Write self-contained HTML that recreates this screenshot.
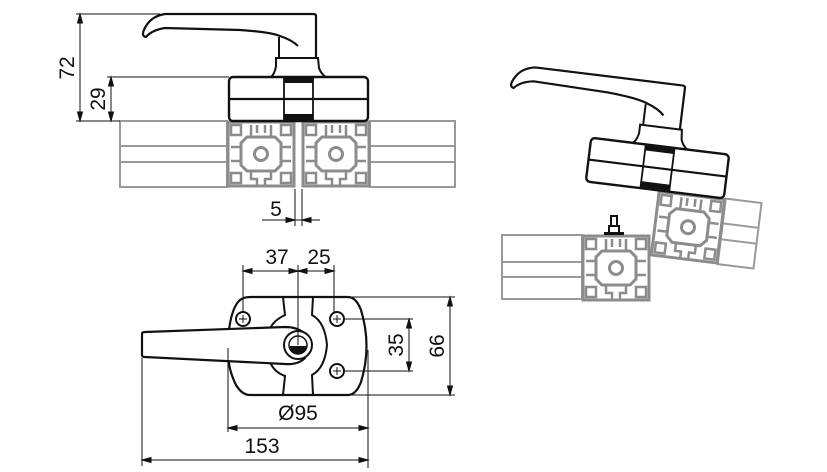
<!DOCTYPE html>
<html><head><style>
html,body{margin:0;padding:0;background:#fff;width:827px;height:472px;overflow:hidden}
text{font-family:"Liberation Sans","DejaVu Sans",sans-serif;font-size:21px;fill:#111}
</style></head><body>
<svg width="827" height="472" viewBox="0 0 827 472" xmlns="http://www.w3.org/2000/svg">
<defs>
<g id="blk">
  <rect x="1" y="1" width="66" height="64" fill="#fff" stroke="#8c8c8c" stroke-width="3"/>
  <rect x="4" y="4" width="10" height="10" fill="#fff" stroke="#8c8c8c" stroke-width="2.5"/>
  <rect x="54" y="4" width="10" height="10" fill="#fff" stroke="#8c8c8c" stroke-width="2.5"/>
  <rect x="4" y="52" width="10" height="10" fill="#fff" stroke="#8c8c8c" stroke-width="2.5"/>
  <rect x="54" y="52" width="10" height="10" fill="#fff" stroke="#8c8c8c" stroke-width="2.5"/>
  <path d="M20 16 L48 16 L54 22 L54 44 L48 50 L20 50 L14 44 L14 22 Z" fill="#fff" stroke="#8c8c8c" stroke-width="3"/>
  <path d="M24 50 L24 58 L30 58 L30 64 M44 50 L44 58 L38 58 L38 64 M24 16 L24 4 M44 16 L44 4 M30 4 L30 12 M38 4 L38 12 M14 26 L4 26 M14 40 L4 40 M54 26 L64 26 M54 40 L64 40" fill="none" stroke="#8c8c8c" stroke-width="2.5"/>
  <circle cx="34" cy="33" r="6.5" fill="none" stroke="#8c8c8c" stroke-width="3"/>
</g>
<g id="head">
  <path d="M316 58 L316 16 Q316 14 313 14 L165 14 Q152 16 146 26 Q140 36 146 37 Q152 30 165 28 L240 30 Q270 32 280 36 Q292 40 298 46" fill="none" stroke="#111" stroke-width="2.2"/>
  <path d="M279 37 L279 58" stroke="#111" stroke-width="2"/>
  <path d="M270 78 Q275 74 276 66 L276 58 L318 58 L319 68 Q321 74 327 78" fill="none" stroke="#111" stroke-width="2"/>
  <rect x="229" y="77" width="139" height="44" rx="4" fill="#fff" stroke="#111" stroke-width="2.4"/>
  <line x1="229" y1="99" x2="368" y2="99" stroke="#111" stroke-width="2.2"/>
  <line x1="284" y1="77" x2="284" y2="121" stroke="#111" stroke-width="1.8"/>
  <line x1="313" y1="77" x2="313" y2="121" stroke="#111" stroke-width="1.8"/>
  <rect x="284" y="78" width="29" height="5" fill="#111"/>
  <rect x="284" y="114" width="29" height="6" fill="#111"/>
</g>
</defs>

<g stroke="#999" stroke-width="2" fill="none">
  <rect x="120" y="121" width="107" height="66"/>
  <line x1="120" y1="146" x2="227" y2="146"/><line x1="120" y1="162" x2="227" y2="162"/>
  <rect x="370" y="121" width="85" height="66"/>
  <line x1="370" y1="146" x2="455" y2="146"/><line x1="370" y1="162" x2="455" y2="162"/>
</g>
<use href="#blk" x="227" y="121"/>
<use href="#blk" x="302" y="121"/>
<use href="#head"/>

<g stroke="#111" stroke-width="1" fill="#111">
  <line x1="76" y1="14" x2="160" y2="14"/>
  <line x1="76" y1="121" x2="120" y2="121"/>
  <line x1="80" y1="14" x2="80" y2="121"/>
  <path d="M80 14 l-2.5 9 h5z M80 121 l-2.5 -9 h5z"/>
  <line x1="107" y1="77" x2="229" y2="77"/>
  <line x1="111" y1="77" x2="111" y2="121"/>
  <path d="M111 77 l-2.5 9 h5z M111 121 l-2.5 -9 h5z"/>
  <line x1="295" y1="189" x2="295" y2="226"/>
  <line x1="302" y1="189" x2="302" y2="226"/>
  <line x1="262" y1="220" x2="320" y2="220"/>
  <path d="M295 220 l-9 -2.5 v5z M302 220 l9 -2.5 v5z"/>
</g>
<text transform="translate(74,68) rotate(-90)" text-anchor="middle">72</text>
<text transform="translate(105,99) rotate(-90)" text-anchor="middle">29</text>
<text x="276" y="216" text-anchor="middle">5</text>

<path d="M250 297 L348 297 Q356 297 361 310 Q372 346 361 382 Q356 395 348 395 L250 395 Q242 395 236 385 Q226 365 228 340 Q230 312 238 302 Q242 297 250 297 Z" fill="#fff" stroke="#111" stroke-width="2.2"/>
<path d="M283 297 L285 315 Q270 322 268 335 M313 297 L312 315 Q325 322 327 345 Q325 368 312 375 L313 395 M283 395 L285 376 Q274 372 270 362" fill="none" stroke="#111" stroke-width="2"/>
<path d="M142 334 Q142 332 145 332 L285 327 Q298 327 305 334 L305 358 Q298 365 285 364 L145 357 Q142 357 142 355 Z" fill="#fff" stroke="#111" stroke-width="2.2"/>
<circle cx="298" cy="345" r="14" fill="#fff" stroke="#111" stroke-width="2"/>
<circle cx="298" cy="345" r="9" fill="#fff" stroke="#111" stroke-width="1.5"/>
<path d="M290 346 h16 a8 8 0 0 1 -16 0z" fill="#111"/>
<g fill="#fff" stroke="#111" stroke-width="2">
  <circle cx="243" cy="319" r="7"/><circle cx="337" cy="319" r="7"/><circle cx="337" cy="371" r="7"/>
</g>
<g stroke="#111" stroke-width="1">
  <path d="M239 319h8M243 315v8M333 319h8M337 315v8M333 371h8M337 367v8"/>
</g>
<g stroke="#111" stroke-width="1" fill="#111">
  <line x1="243" y1="265" x2="243" y2="312"/>
  <line x1="298" y1="265" x2="298" y2="345"/>
  <line x1="334" y1="265" x2="334" y2="312"/>
  <line x1="243" y1="271" x2="334" y2="271"/>
  <path d="M243 271 l9 -2.5 v5z M298 271 l-9 -2.5 v5z M298 271 l9 -2.5 v5z M334 271 l-9 -2.5 v5z"/>
  <line x1="345" y1="319" x2="413" y2="319"/>
  <line x1="345" y1="371" x2="413" y2="371"/>
  <line x1="409" y1="319" x2="409" y2="371"/>
  <path d="M409 319 l-2.5 9 h5z M409 371 l-2.5 -9 h5z"/>
  <line x1="350" y1="297" x2="455" y2="297"/>
  <line x1="350" y1="395" x2="455" y2="395"/>
  <line x1="450" y1="297" x2="450" y2="395"/>
  <path d="M450 297 l-2.5 9 h5z M450 395 l-2.5 -9 h5z"/>
  <line x1="228" y1="348" x2="228" y2="432"/>
  <line x1="368" y1="350" x2="368" y2="468"/>
  <line x1="228" y1="428" x2="368" y2="428"/>
  <path d="M228 428 l9 -2.5 v5z M368 428 l-9 -2.5 v5z"/>
  <line x1="142" y1="358" x2="142" y2="466"/>
  <line x1="142" y1="460" x2="368" y2="460"/>
  <path d="M142 460 l9 -2.5 v5z M368 460 l-9 -2.5 v5z"/>
</g>
<text x="277" y="264" text-anchor="middle">37</text>
<text x="319" y="264" text-anchor="middle">25</text>
<text transform="translate(403,345) rotate(-90)" text-anchor="middle">35</text>
<text transform="translate(444,346) rotate(-90)" text-anchor="middle">66</text>
<text x="298" y="420" text-anchor="middle">Ø95</text>
<text x="262" y="453" text-anchor="middle">153</text>

<g stroke="#999" stroke-width="2" fill="none">
  <rect x="502" y="235" width="80" height="64"/>
  <line x1="502" y1="262" x2="582" y2="262"/><line x1="502" y1="277" x2="582" y2="277"/>
</g>
<use href="#blk" x="582" y="235"/>
<path d="M606 234 h16 M609 234 v-8 h10 v8 M611 226 v-10 h6 v10" fill="none" stroke="#111" stroke-width="2"/>
<rect x="604" y="232" width="20" height="3" fill="#111"/>
<g transform="translate(657,168) rotate(7) translate(-298,-99)">
  <g stroke="#999" stroke-width="2" fill="none">
    <rect x="370" y="121" width="36" height="66"/>
    <line x1="370" y1="146" x2="406" y2="146"/><line x1="370" y1="162" x2="406" y2="162"/>
  </g>
  <use href="#blk" x="302" y="121"/>
  <use href="#head"/>
</g>
</svg>
</body></html>
